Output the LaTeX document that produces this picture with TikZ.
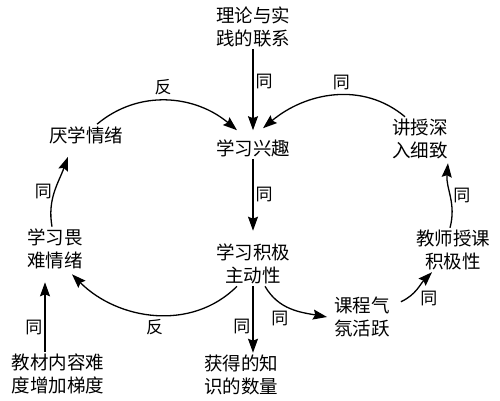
\documentclass[tikz,border=0pt]{standalone}
\usepackage{xcolor}
\usepackage{fontspec}
\usepackage{tikz}
\usetikzlibrary{arrows.meta, positioning}
\newfontfamily\cjk{Noto Sans CJK SC}

\begin{document}
\begin{tikzpicture}[x=1pt, y=1pt]
    % Define styles
    \tikzstyle{factor} = [align=center, inner sep=2pt, font=\cjk\fontsize{18.5}{23}\selectfont]
    \tikzstyle{tag} = [inner sep=2pt, font=\cjk\fontsize{17}{19}\selectfont]
    \tikzstyle{arrow} = [line width=1.3pt, -{Stealth[length=14pt, width=10pt, inset=2pt]}]
    \useasboundingbox (0,0) rectangle (500,400);

    % Nodes
    \node (theory) [factor] at (253,373) {理论与实\\践的联系};
    \node (interest) [factor] at (253,252) {学习兴趣};
    \node (active) [factor] at (253,136) {学习积极\\主动性};
    \node (amount) [factor] at (241,25) {获得的知\\识的数量};
    \node (atmos) [factor] at (362,83) {课程气\\氛活跃};
    \node (teacher) [factor] at (453,150) {教师授课\\积极性};
    \node (detail) [factor] at (420,261) {讲授深\\入细致};
    \node (dislike) [factor] at (86,265) {厌学情绪};
    \node (fear) [factor] at (55,151) {学习畏\\难情绪};
    \node (material) [factor] at (58,26) {教材内容难\\度增加梯度};

    % Arrows
    \draw [arrow] (theory.south) -- node[tag, right, pos=0.4] {同} ([yshift=7pt]interest.north);
    \draw [arrow] (interest.south) -- node[tag, right] {同} ([yshift=11pt]active.north);
    \draw [arrow] (active.south) -- node[tag, left, pos=0.6] {同} (active.south |- amount.north);
    \draw [arrow] ([xshift=11pt]dislike.north) to[out=40, in=140] node[tag, above, yshift=3pt, xshift=-4pt] {反} ([xshift=-16pt, yshift=7pt]interest.north);
    \draw [arrow] ([xshift=-15pt]detail.north) to[out=140, in=40] node[tag, above, yshift=3pt, pos=0.45] {同} ([xshift=10pt, yshift=9pt]interest.north);
    \draw [arrow] ([xshift=-16pt]active.south) to[out=-135, in=-45] node[tag, below, yshift=-2pt] {反} ([xshift=17pt, yshift=-3pt]fear.south);
    \draw [arrow] ([xshift=12pt]active.south) to[out=-60, in=170] node[tag, below left] {同} ([xshift=-5pt]atmos.west);
    \draw [arrow] ([shift={(9,-7)}]atmos.north east) to[out=25, in=-135] node[tag, below right] {同} ([xshift=-21pt]teacher.south);
    \draw [arrow] ([xshift=-3pt]teacher.north) to[out=75, in=-95] node[tag, right] {同} ([shift={(-2,-2)}]detail.south east);
    \draw [arrow] ([xshift=-3pt]fear.north) to[out=100, in=-110] node[tag, left] {同} ([shift={(-18,-11)}]dislike.south);
    \draw [arrow] ([xshift=-13pt]material.north) -- node[tag, left, pos=0.35] {同} ([shift={(-10,-11)}]fear.south);
\end{tikzpicture}
\end{document}
